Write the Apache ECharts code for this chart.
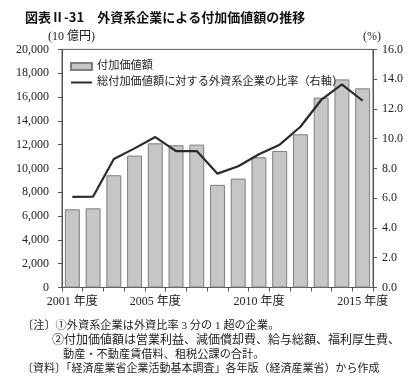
<!DOCTYPE html>
<html>
<head>
<meta charset="utf-8">
<script src="https://cdn.jsdelivr.net/npm/echarts@6/dist/echarts.min.js"></script>
<style>
html,body{margin:0;padding:0;background:#fff;}
#c{width:418px;height:387px;}
</style>
</head>
<body>
<div id="c"></div>
<script>
const years = [2001,2002,2003,2004,2005,2006,2007,2008,2009,2010,2011,2012,2013,2014,2015];
const categories = years.map(y => y + ' 年度');
const labelledYears = [2001, 2005, 2010, 2015];
const valueAdded = [6570, 6650, 9430, 11080, 12110, 11950, 12000, 8620, 9150, 10940, 11470, 12870, 15950, 17480, 16730];
const ratio = [6.09, 6.11, 8.64, 9.35, 10.11, 9.17, 9.17, 7.65, 8.15, 8.95, 9.6, 10.8, 12.6, 13.65, 12.55];
const seriesNames = ['付加価値額', '総付加価値額に対する外資系企業の比率（右軸）'];
const titleText = '図表Ⅱ-31　外資系企業による付加価値額の推移';
const leftUnit = '(10 億円)';
const rightUnit = '(%)';
const notes = [
  '〔注〕①外資系企業は外資比率 3 分の 1 超の企業。',
  '②付加価値額は営業利益、減価償却費、給与総額、福利厚生費、',
  '動産・不動産賃借料、租税公課の合計。',
  '〔資料〕「経済産業省企業活動基本調査」各年版（経済産業省）から作成'
];

const SERIF = "'Liberation Serif', 'DejaVu Serif', 'Noto Sans CJK JP', serif";
const CJK = "'Noto Sans CJK JP', sans-serif";
const axisCol = '#555';
const txtCol = '#222';

function fmtThousands(v){
  const s = String(Math.round(v));
  return s.replace(/\B(?=(\d{3})+(?!\d))/g, ',');
}

const chart = echarts.init(document.getElementById('c'), null, {renderer:'canvas'});
chart.setOption({
  animation:false,
  backgroundColor:'#fff',
  grid:{left:62, right:45, top:49.4, bottom:99.5, show:true, borderColor:axisCol, borderWidth:1, backgroundColor:'transparent'},
  legend:{
    orient:'vertical', left:65, top:54.5, itemWidth:21, itemHeight:7, itemGap:2,
    textStyle:{fontFamily:SERIF, fontSize:11.2, color:txtCol, lineHeight:14},
    data:[
      {name:seriesNames[0], icon:'rect'},
      {name:seriesNames[1], itemStyle:{opacity:0}}
    ]
  },
  xAxis:{
    type:'category', data:categories, boundaryGap:true,
    axisLine:{lineStyle:{color:axisCol, width:1}},
    axisTick:{show:true, length:4, interval:0, lineStyle:{color:axisCol}},
    axisLabel:{
      interval:0, margin:8, fontFamily:SERIF, fontSize:12, color:txtCol,
      formatter:(v, i) => labelledYears.indexOf(years[i]) >= 0 ? v : ''
    },
    splitLine:{show:false}
  },
  yAxis:[
    {
      type:'value', min:0, max:20000, interval:2000,
      axisLine:{show:true, lineStyle:{color:axisCol}},
      axisTick:{show:true, length:4, lineStyle:{color:axisCol}},
      axisLabel:{margin:13, fontFamily:SERIF, fontSize:12, color:txtCol, formatter:v => fmtThousands(v)},
      splitLine:{show:false}
    },
    {
      type:'value', min:0, max:16, interval:2, position:'right',
      axisLine:{show:true, lineStyle:{color:axisCol}},
      axisTick:{show:true, length:4, lineStyle:{color:axisCol}},
      axisLabel:{margin:9, fontFamily:SERIF, fontSize:12, color:txtCol, formatter:v => v.toFixed(1)},
      splitLine:{show:false}
    }
  ],
  series:[
    {
      name:seriesNames[0], type:'bar', yAxisIndex:0, data:valueAdded, barWidth:'72%',
      itemStyle:{color:'#c6c6c6', borderColor:'#7e7e7e', borderWidth:1}
    },
    {
      name:seriesNames[1], type:'line', yAxisIndex:1, data:ratio, symbol:'none',
      lineStyle:{color:'#2a2a2a', width:2.2}, itemStyle:{color:'#2a2a2a'}
    }
  ],
  graphic:[
    {type:'text', left:25, top:11, style:{text:titleText, font:"bold 13px " + CJK, fill:'#111'}},
    {type:'text', x:48, y:37, style:{text:leftUnit, font:"12px " + SERIF, fill:txtCol, verticalAlign:'middle'}},
    {type:'text', x:363, y:37, style:{text:rightUnit, font:"12px " + SERIF, fill:txtCol, verticalAlign:'middle'}},
    {type:'text', x:22, y:326, style:{text:notes[0], font:"11.2px " + SERIF, fill:txtCol, verticalAlign:'middle'}},
    {type:'text', x:52, y:341, style:{text:notes[1], font:"12px " + SERIF, fill:txtCol, verticalAlign:'middle'}},
    {type:'text', x:63, y:355, style:{text:notes[2], font:"11.2px " + SERIF, fill:txtCol, verticalAlign:'middle'}},
    {type:'text', x:22, y:369, style:{text:notes[3], font:"11px " + SERIF, fill:txtCol, verticalAlign:'middle'}}
  ]
});
</script>
</body>
</html>
